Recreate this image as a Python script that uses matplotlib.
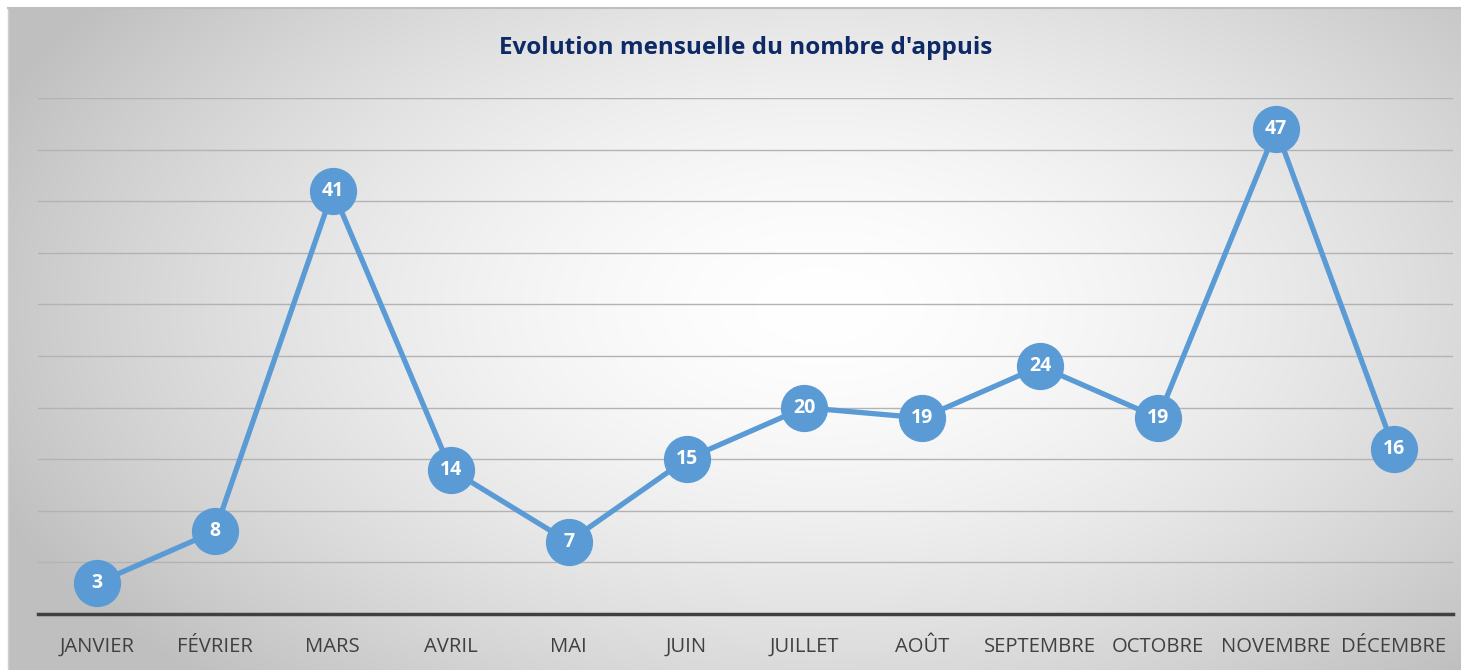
import numpy as np
import matplotlib
matplotlib.use("Agg")
import matplotlib.pyplot as plt

months = ["JANVIER", "FÉVRIER", "MARS", "AVRIL", "MAI", "JUIN", "JUILLET",
          "AOÛT", "SEPTEMBRE", "OCTOBRE", "NOVEMBRE", "DÉCEMBRE"]
values = [3, 8, 41, 14, 7, 15, 20, 19, 24, 19, 47, 16]
title = "Evolution mensuelle du nombre d'appuis"

W, H = 1461, 670
fig = plt.figure(figsize=(W / 100, H / 100), dpi=100)
fig.patch.set_facecolor("white")

# background box with radial gradient
bx0, by0 = 8 / W, 0.0
bg = fig.add_axes([bx0, by0, 1 - bx0, 1 - 8 / H])
ny, nx = 300, 600
yy, xx = np.mgrid[0:1:ny * 1j, 0:1:nx * 1j]
r = np.sqrt(((xx - 0.56) / 0.62) ** 2 + ((yy - 0.55) / 0.78) ** 2)
r = np.clip(r, 0, 1)
v = 1.0 - 0.25 * r ** 1.6
img = np.dstack([v, v, v])
bg.imshow(img, extent=[0, 1, 0, 1], aspect="auto", origin="lower")
bg.set_xlim(0, 1); bg.set_ylim(0, 1)
bg.set_xticks([]); bg.set_yticks([])
for s in ["right", "bottom"]:
    bg.spines[s].set_visible(False)
bg.spines["top"].set_color("#bfbfbf")
bg.spines["top"].set_linewidth(1.5)
bg.spines["left"].set_color("#d0d0d0")
bg.spines["left"].set_linewidth(1)

ax = fig.add_axes([38 / W, 1 - 614 / H, (1453 - 38) / W, (614 - 98) / H])
ax.patch.set_alpha(0)
x = np.arange(len(months))
ax.set_xlim(-0.5, len(months) - 0.5)
ax.set_ylim(0, 50)
ax.set_yticks(np.arange(5, 51, 5))
ax.yaxis.grid(True, color="#b3b3b3", linewidth=1.0)
ax.set_axisbelow(True)
ax.tick_params(axis="y", left=False, labelleft=False)
ax.tick_params(axis="x", bottom=False, pad=13)
for s in ["left", "right", "top"]:
    ax.spines[s].set_visible(False)
ax.spines["bottom"].set_color("#404040")
ax.spines["bottom"].set_linewidth(2.5)
ax.set_xticks(x)
ax.set_xticklabels(months, fontsize=14.6, color="#404040", family="Open Sans")

ax.plot(x, values, color="#5b9bd5", linewidth=3.8, marker="o",
        markersize=33, markeredgecolor="#5b9bd5", zorder=3, clip_on=False)
for xi, val in zip(x, values):
    ax.text(xi, val, str(val), ha="center", va="center", color="white",
            fontsize=14, fontweight="bold", family="Open Sans", zorder=4)

fig.text(746 / W, 1 - 48 / H, title, ha="center", va="center", color="#0e2a66",
         fontsize=17.5, fontweight="bold", family="Open Sans")

fig.savefig("out.png", dpi=100)
